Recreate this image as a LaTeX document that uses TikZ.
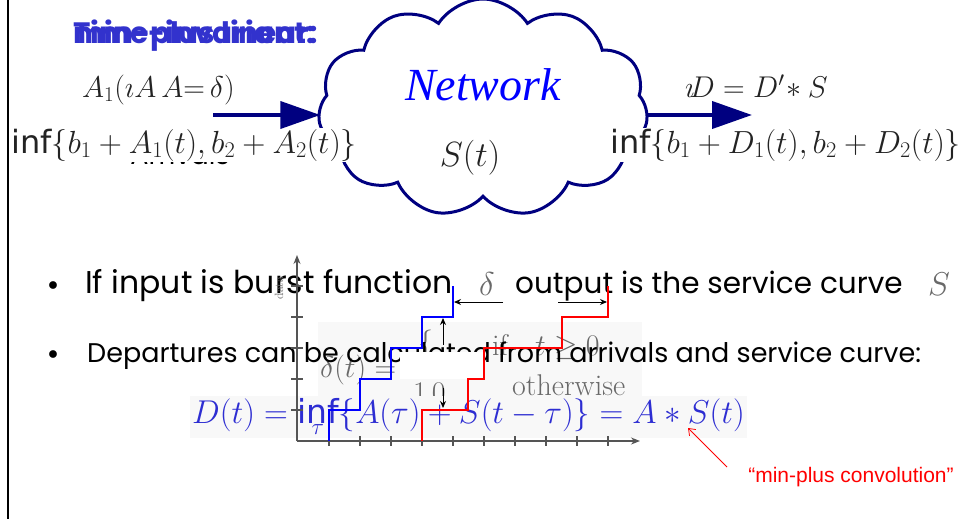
\RequirePackage{fix-cm}
\documentclass[tikz,border=0pt]{standalone}
\usepackage{fontspec}
\usetikzlibrary{shapes.symbols,arrows.meta}
\newfontfamily\bulletfont{Poppins}
\newfontfamily\infont{DejaVu Sans}
\newfontfamily\netfont{Liberation Serif}
\newfontfamily\annfont{Liberation Sans}
\definecolor{navy}{RGB}{0,0,128}
\definecolor{titleblue}{RGB}{50,50,205}
\definecolor{formgray}{RGB}{35,35,35}
\definecolor{fadegray}{RGB}{105,105,105}
\definecolor{dblue}{RGB}{45,45,210}
\definecolor{stairblue}{RGB}{0,0,255}
\definecolor{stairred}{RGB}{255,0,0}
\definecolor{axisgray}{RGB}{85,85,85}
\definecolor{bgbox}{RGB}{248,248,248}
\newcommand\infop{\mathop{\hbox{\infont inf}}}
\newcommand\fsz[1]{\fontsize{#1}{#1}\selectfont}
\begin{document}
\begin{tikzpicture}[x=1pt,y=-1pt,
  titletxt/.style={font=\bulletfont\bfseries\fsz{29.5}, text=titleblue, inner sep=0pt, anchor=base west},
  formula/.style={inner sep=1pt, text=formgray, font=\fsz{30}},
  fadeform/.style={inner sep=0pt, text=fadegray, font=\fsz{30}},
  btext/.style={inner sep=0pt, font=\bulletfont\fsz{27}, anchor=base west},
  bigarrow/.style={draw=navy, line width=4pt, -{Triangle[length=40pt,width=27pt]}},
  smallarrow/.style={draw=black, line width=1pt, -{Stealth[length=7pt,width=6pt]}},
  stair/.style={line width=2.5pt, line join=miter},
  tick/.style={draw=axisgray, line width=1.2pt}]
\fill[white] (0,0) rectangle (964,519);
\useasboundingbox (0,0) rectangle (964,519);
\draw[line width=2.5pt] (8,0) -- (8,519);

% title (two overlapping layers)
\node[titletxt] (title1) at (73,44) {min-plus linear:};
\node[titletxt] (title2) at (73,44) {Time-invariant:};

% cloud
\node[cloud, draw=navy, line width=3pt, fill=white, cloud puffs=11, cloud puff arc=115,
      aspect=1.57, minimum width=330pt, minimum height=218pt, inner sep=0pt] (net) at (483,108) {};
\node[text=stairblue, font=\netfont\itshape\fsz{46}, anchor=base, inner sep=0pt] (nettxt) at (483,100) {Network};
\node[formula, anchor=base, font=\fsz{35}] (st) at (470,166) {$S(t)$};

% left side
\node[formula, anchor=base west, inner sep=0pt] (ain) at (82,97) {$A_1(\imath A\,A{=}\,\delta)$};
\node[btext, anchor=base] (arr) at (180,164) {Arrivals};
\node[formula, fill=white, anchor=west, minimum height=29pt, font=\fsz{32}] (ainf) at (10,145)
  {$\infop\{b_1 + A_1(t), b_2 + A_2(t)\}$};
\coordinate (lstart) at (213,115);
\draw[bigarrow] (lstart) -- ([xshift=2pt]lstart -| net.west);

% right side
\node[formula, anchor=base west, inner sep=0pt] (dout) at (685,97) {$\imath\!D = D'\!* S$};
\node[formula, fill=white, anchor=west, minimum height=29pt, font=\fsz{32}] (dinf) at (609,145)
  {$\infop\{b_1 + D_1(t), b_2 + D_2(t)\}$};
\coordinate (rend) at (752,115);
\draw[bigarrow] (rend -| net.east) -- (rend);

% delta(t) definition (faded, underneath)
\fill[bgbox] (318,322) rectangle (642,398);
\node[fadeform, anchor=base west] (dl) at (320,377) {$\delta(t) =$};
\node[fadeform, anchor=base] (dbrace) at (426,352) {$\Big\{$};
\node[fadeform, anchor=base west] (cif) at (492,355) {if\ \ \ $t \geq 0$};
\node[fadeform, anchor=base west] (cow) at (512,395) {otherwise};

% bullets
\node[font=\fsz{20}, anchor=base, inner sep=0pt] (bul1) at (53,290) {$\bullet$};
\node[btext, font=\bulletfont\fsz{31.5}] (b1a) at (85,293) {If input is burst function};
\node[formula, text=fadegray, anchor=base, inner sep=0pt, font=\fsz{33}] (b1d) at (487,295) {$\delta$};
\node[btext, font=\bulletfont\fsz{29.5}] (b1b) at (515,293) {output is the service curve};
\node[formula, text=fadegray, anchor=base, inner sep=0pt, font=\fsz{33}] (b1s) at (939,295) {$S$};
\node[font=\fsz{20}, anchor=base, inner sep=0pt] (bul2) at (53,359) {$\bullet$};
\node[btext] (b2) at (87,362) {Departures can be calculated from arrivals and service curve:};

% white patch and the "1 0" of the cases
\fill[white] (400,352) rectangle (483,379);
\node[fadeform, anchor=base west] (c10) at (413,402) {$1\,0$};

% D(t) formula
\node[fill=bgbox, text=dblue, font=\fsz{33}, anchor=base west, inner sep=2pt] (dform) at (190,423)
  {$D(t) = \infop\limits_{\tau}\{A(\tau) + S(t-\tau)\} = A * S(t)$};

% graph
\coordinate (o) at (297,441);
\draw[axisgray, line width=1.3pt, -{Stealth[length=9pt,width=7pt]}] (o) -- (640,441) coordinate (xend);
\draw[axisgray, line width=1.3pt, -{Stealth[length=9pt,width=7pt]}] (o) -- (297,255) coordinate (yend);
\foreach \x in {329,360,391,422,453,484,515,546,577,608} \draw[tick] (\x,436) -- (\x,446);
\foreach \y in {286,317,348,379,410} \draw[tick] (291,\y) -- (303,\y);
\node[rotate=90, font=\fsz{12}, text=fadegray, inner sep=0pt] (ylab) at (279,288) {data};
\draw[stair, stairblue] (329,441) -- (329,410) -- (360,410) -- (360,379) -- (391,379) -- (391,348)
  -- (422,348) -- (422,317) -- (453,317) -- (453,286);
\draw[stair, stairred] (422,441) -- (422,410) -- (468,410) -- (468,379) -- (484,379) -- (484,348)
  -- (562,348) -- (562,317) -- (608,317) -- (608,286);
\draw[smallarrow] (503,302) -- (454,302);
\draw[smallarrow] (558,302) -- (607,302);
\draw[smallarrow] (443,345) -- (443,318);
\draw[smallarrow] (443,388) -- (443,408);

% annotation
\node[font=\annfont\fsz{21}, text=stairred, anchor=base, inner sep=0pt] (ann) at (851,482)
  {\char"201C min-plus convolution\char"201D};
\coordinate (annfrom) at (727,467);
\coordinate (star) at (688,428);
\draw[stairred, line width=0.8pt, -{Straight Barb[length=6pt,width=9pt]}] (annfrom) -- (star);
\end{tikzpicture}
\end{document}
